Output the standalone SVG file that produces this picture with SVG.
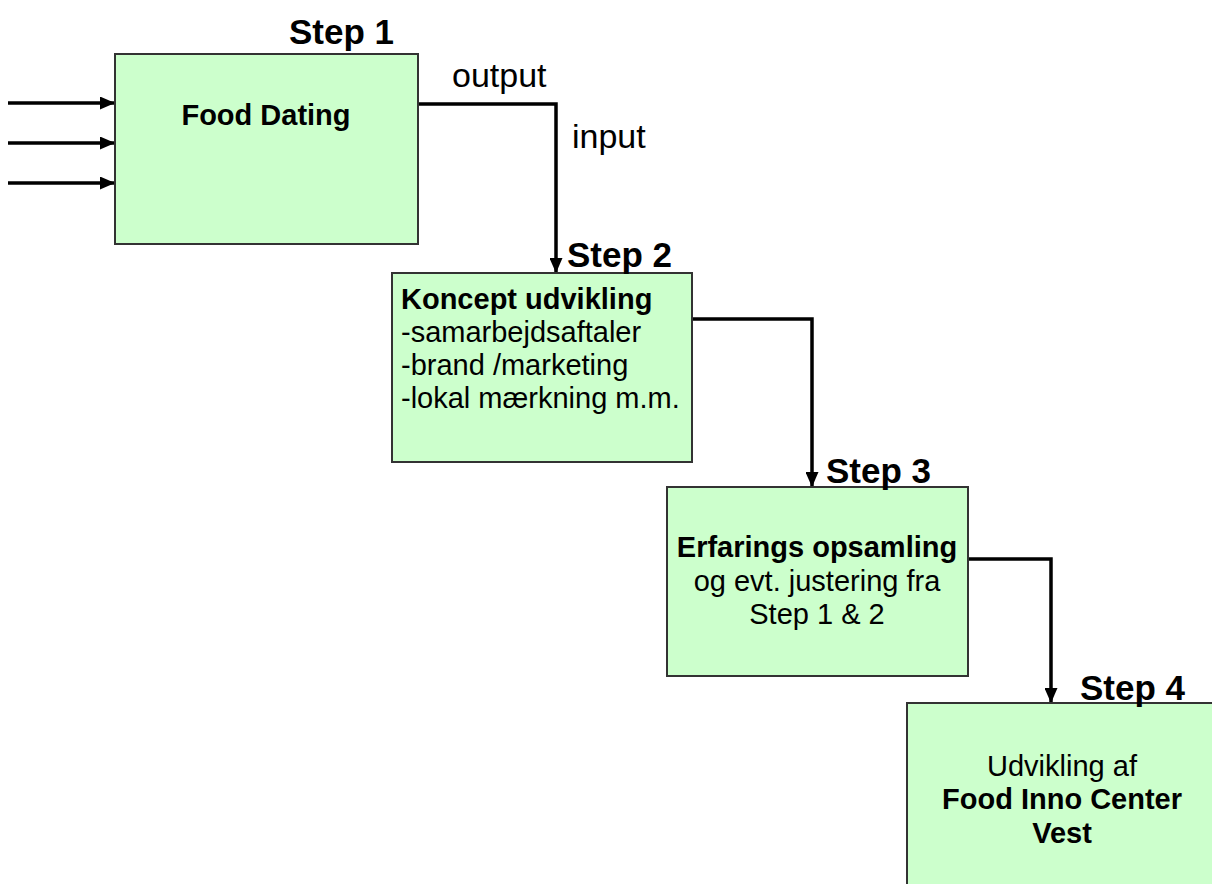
<svg xmlns="http://www.w3.org/2000/svg" width="1212" height="884" viewBox="0 0 1212 884">
<style>
.box{fill:#CCFFCC;stroke:#333333;stroke-width:2}
.t{font-family:"Liberation Sans",Arial,sans-serif;fill:#000}
.b{font-weight:bold}
.step{font-family:"Liberation Sans",Arial,sans-serif;font-weight:bold;font-size:35px}
.body{font-size:29px}
.lab{font-size:34px}
.con{fill:none;stroke:#000;stroke-width:3.5}
</style>
<defs>
<marker id="ah" viewBox="0 0 15 13" refX="15" refY="6.5" markerWidth="15" markerHeight="13" markerUnits="userSpaceOnUse" orient="auto">
<path d="M0,0 L15,6.5 L0,13 Z" fill="#000"/>
</marker>
</defs>
<rect width="1212" height="884" fill="#fff"/>
<g id="connectors">
<line class="con" x1="8" y1="103" x2="115" y2="103" marker-end="url(#ah)"/>
<line class="con" x1="8" y1="143" x2="115" y2="143" marker-end="url(#ah)"/>
<line class="con" x1="8" y1="183" x2="115" y2="183" marker-end="url(#ah)"/>
<path class="con" d="M418,104 H556 V273" marker-end="url(#ah)"/>
<path class="con" d="M692,319 H812 V487" marker-end="url(#ah)"/>
<path class="con" d="M968,559 H1051 V703" marker-end="url(#ah)"/>
<text class="t lab" x="452" y="87">output</text>
<text class="t lab" x="572" y="148">input</text>
</g>
<g id="step1">
<rect class="box" x="115" y="54" width="303" height="190"/>
<text class="step" x="289" y="44">Step 1</text>
<text class="t b body" x="266" y="125" text-anchor="middle">Food Dating</text>
</g>
<g id="step2">
<rect class="box" x="392" y="273" width="300" height="189"/>
<text class="step" x="567" y="267">Step 2</text>
<text class="t body" x="401"><tspan class="b" y="309">Koncept udvikling</tspan><tspan x="401" y="342">-samarbejdsaftaler</tspan><tspan x="401" y="375">-brand /marketing</tspan><tspan x="401" y="408">-lokal mærkning m.m.</tspan></text>
</g>
<g id="step3">
<rect class="box" x="667" y="487" width="301" height="189"/>
<text class="step" x="826" y="483">Step 3</text>
<text class="t body" text-anchor="middle"><tspan class="b" x="817" y="557">Erfarings opsamling</tspan><tspan x="817" y="591">og evt. justering fra</tspan><tspan x="817" y="624">Step 1 &amp; 2</tspan></text>
</g>
<g id="step4">
<rect class="box" x="907" y="703" width="320" height="200"/>
<text class="step" x="1080" y="700">Step 4</text>
<text class="t body" text-anchor="middle"><tspan x="1062" y="776">Udvikling af</tspan><tspan class="b" x="1062" y="809">Food Inno Center</tspan><tspan class="b" x="1062" y="843">Vest</tspan></text>
</g>
</svg>
